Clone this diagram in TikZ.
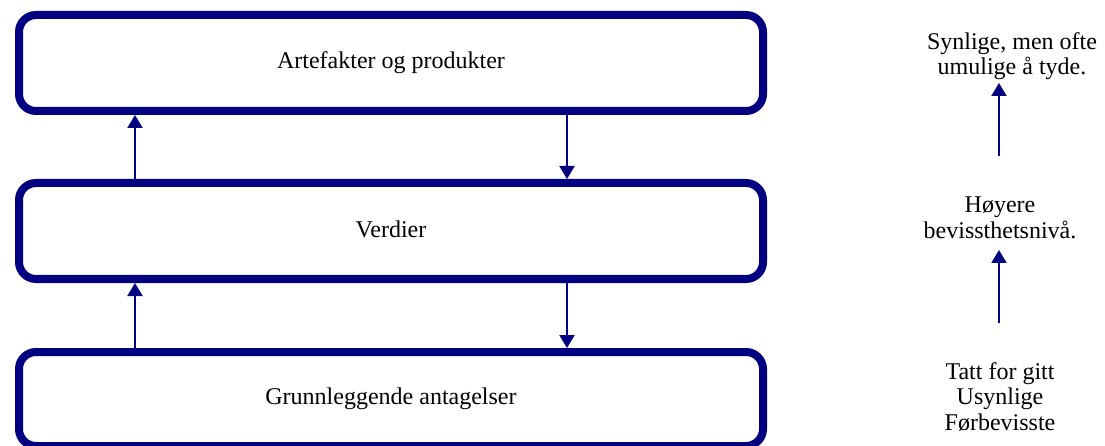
\documentclass[tikz,border=0pt]{standalone}
\usepackage{fontspec}
\setmainfont{Liberation Serif}
\usetikzlibrary{arrows.meta}
\definecolor{navy}{RGB}{0,0,128}
\begin{document}
\begin{tikzpicture}[x=1pt,y=-1pt,
  box/.style={draw=navy,line width=8pt,rounded corners=17pt,minimum width=744pt,inner sep=0pt,anchor=north west,font=\fontsize{24}{26}\selectfont},
  arr/.style={draw=navy,line width=2pt,-{Triangle[length=13pt,width=15pt]}},
  side/.style={align=center,font=\fontsize{24}{25.5}\selectfont,inner sep=0pt}]
\useasboundingbox (0,0) rectangle (1105,446);
\node[box,minimum height=96pt] (b1) at (15,11) {\raisebox{3pt}{Artefakter og produkter}};
\node[box,minimum height=96pt] (b2) at (15,179) {\raisebox{3pt}{Verdier}};
\node[box,minimum height=94pt] (b3) at (15,348) {\raisebox{2pt}{Grunnleggende antagelser}};
\coordinate (L) at (135,0);
\coordinate (R) at (567,0);
\draw[arr] (b2.north -| L) -- (b1.south -| L);
\draw[arr] (b1.south -| R) -- (b2.north -| R);
\draw[arr] (b3.north -| L) -- (b2.south -| L);
\draw[arr] (b2.south -| R) -- (b3.north -| R);
\node[side] (t1) at (1012,56) {Synlige, men ofte\\umulige å tyde.};
\node[side] (t2) at (1000,218) {Høyere\\bevissthetsnivå.};
\node[side] (t3) at (1000,397) {Tatt for gitt\\Usynlige\\Førbevisste};
\coordinate (a1s) at (999,156);
\coordinate (a1e) at (999,83);
\coordinate (a2s) at (999,323);
\coordinate (a2e) at (999,250);
\draw[arr] (a1s) -- (a1e);
\draw[arr] (a2s) -- (a2e);
\end{tikzpicture}
\end{document}
